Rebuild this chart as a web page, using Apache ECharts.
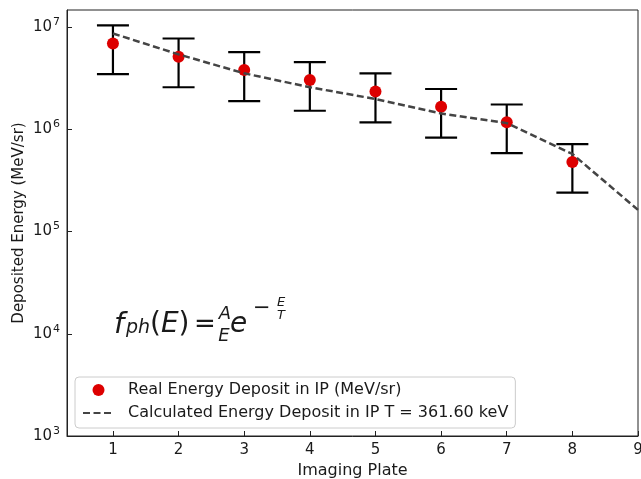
<!DOCTYPE html>
<html>
<head>
<meta charset="utf-8">
<script src="https://cdn.jsdelivr.net/npm/echarts@6/dist/echarts.min.js"></script>
<style>
html,body{margin:0;padding:0;background:#fff;}
#main{width:641px;height:479px;}
</style>
</head>
<body>
<div id="main"></div>
<script>
// ---- data ----
const plates = [1, 2, 3, 4, 5, 6, 7, 8];
const realDeposit = [6.93e6, 5.13e6, 3.80e6, 3.03e6, 2.35e6, 1.66e6, 1.17e6, 4.79e5];
const errLow = [3.47e6, 2.58e6, 1.89e6, 1.52e6, 1.17e6, 8.28e5, 5.86e5, 2.40e5];
const errHigh = [1.04e7, 7.74e6, 5.70e6, 4.55e6, 3.53e6, 2.48e6, 1.75e6, 7.18e5];
const calcPlates = [1, 2, 3, 4, 5, 6, 7, 8, 9];
const calcDeposit = [8.67e6, 5.41e6, 3.53e6, 2.58e6, 1.98e6, 1.43e6, 1.15e6, 5.74e5, 1.63e5];
const realName = 'Real Energy Deposit in IP (MeV/sr)';
const calcName = 'Calculated Energy Deposit in IP T = 361.60 keV';

const FONT = 'DejaVu Sans';
const TXT = '#1a1a1a';

const chart = echarts.init(document.getElementById('main'), null, {renderer: 'canvas'});

const errData = plates.map((p, i) => [p, errLow[i], errHigh[i]]);
const realData = plates.map((p, i) => [p, realDeposit[i]]);
const calcData = calcPlates.map((p, i) => [p, calcDeposit[i]]);

function mt(text, x, y, size, opts) {
  return {
    type: 'text', x: x, y: y, z: 100,
    style: Object.assign({
      text: text, fontFamily: FONT, fontSize: size, fontStyle: 'italic',
      fill: TXT, align: 'left', verticalAlign: 'middle'
    }, opts || {})
  };
}

const option = {
  animation: false,
  backgroundColor: '#fff',
  grid: {left: 67, right: 3, top: 10, bottom: 43, containLabel: false, outerBoundsMode: 'none',
    show: true, borderColor: '#222', borderWidth: 1, backgroundColor: 'transparent'},
  xAxis: {
    type: 'value', min: 0.3, max: 9, minInterval: 1, maxInterval: 1,
    name: 'Imaging Plate', nameLocation: 'middle', nameGap: 25,
    nameTextStyle: {fontFamily: FONT, fontSize: 16, color: TXT},
    axisLine: {show: true, onZero: false, lineStyle: {color: '#222', width: 1}},
    axisTick: {show: true, inside: true, length: 5, lineStyle: {color: '#222', width: 1}},
    axisLabel: {fontFamily: FONT, fontSize: 15, color: TXT, margin: 7, showMinLabel: false,
      formatter: v => (Math.abs(v - Math.round(v)) < 1e-6 ? String(Math.round(v)) : '')},
    splitLine: {show: false}
  },
  yAxis: {
    type: 'log', logBase: 10, min: 1000, max: 1.47e7,
    name: 'Deposited Energy (MeV/sr)', nameLocation: 'middle', nameGap: 40, nameRotate: 90,
    nameMoveOverlap: false,
    nameTextStyle: {fontFamily: FONT, fontSize: 15, color: TXT},
    axisLine: {show: true, lineStyle: {color: '#222', width: 1}},
    axisTick: {show: true, inside: true, length: 5, lineStyle: {color: '#222', width: 1}},
    axisLabel: {
      margin: 7, showMaxLabel: false,
      formatter: function (v) {
        const e = Math.log10(v);
        if (Math.abs(e - Math.round(e)) > 1e-6) return '';
        return '{b|10}{s|' + Math.round(e) + '}';
      },
      rich: {
        b: {fontFamily: FONT, fontSize: 15, color: TXT, lineHeight: 15},
        s: {fontFamily: FONT, fontSize: 11, color: TXT, lineHeight: 11, padding: [0, 0, 10, 1]}
      }
    },
    splitLine: {show: false}
  },
  legend: {
    data: [{name: realName}, {name: calcName, itemStyle: {opacity: 0}}],
    orient: 'vertical', left: 75, top: 377,
    padding: [4, 7, 6, 7], itemGap: 5, itemWidth: 31, itemHeight: 12,
    backgroundColor: 'rgba(255,255,255,0.85)', borderColor: '#cccccc', borderWidth: 1, borderRadius: 4,
    textStyle: {fontFamily: FONT, fontSize: 16, color: TXT, lineHeight: 18, padding: [0, 0, 0, 9]}
  },
  series: [
    {
      type: 'custom', name: 'errorbars', data: errData, z: 2,
      encode: {x: 0, y: [1, 2]},
      renderItem: function (params, api) {
        const x = api.value(0);
        const lo = api.coord([x, api.value(1)]);
        const hi = api.coord([x, api.value(2)]);
        const hw = 16;
        const st = {stroke: '#000', lineWidth: 2.2};
        return {type: 'group', children: [
          {type: 'line', shape: {x1: lo[0], y1: lo[1], x2: hi[0], y2: hi[1]}, style: st},
          {type: 'line', shape: {x1: lo[0] - hw, y1: lo[1], x2: lo[0] + hw, y2: lo[1]}, style: st},
          {type: 'line', shape: {x1: hi[0] - hw, y1: hi[1], x2: hi[0] + hw, y2: hi[1]}, style: st}
        ]};
      }
    },
    {
      type: 'scatter', name: realName, data: realData, z: 3,
      symbol: 'circle', symbolSize: 12,
      itemStyle: {color: '#dd0000', opacity: 1}
    },
    {
      type: 'line', name: calcName, data: calcData, z: 4,
      symbol: 'none', showSymbol: false,
      lineStyle: {color: '#444444', width: 2.5, type: [7, 3.5]},
      itemStyle: {color: '#444444'}
    }
  ],
  graphic: [
    mt('f', 114, 325, 29),
    mt('ph', 126, 328.5, 19),
    {type: 'text', x: 150, y: 325, z: 100, style: {
      text: '{u|(}{i|E}{u|)}', verticalAlign: 'middle', align: 'left',
      rich: {
        u: {fontFamily: FONT, fontSize: 28, fill: TXT, color: TXT},
        i: {fontFamily: FONT, fontSize: 28, fontStyle: 'italic', fill: TXT, color: TXT}
      }
    }},
    mt('=', 205, 325, 26, {fontStyle: 'normal', align: 'center'}),
    mt('A', 225, 314.7, 18, {align: 'center'}),
    mt('E', 224, 336.7, 18, {align: 'center'}),
    mt('e', 230, 325, 28),
    mt('\u2212', 253, 308.4, 21, {fontStyle: 'normal'}),
    mt('E', 281, 303, 13, {align: 'center'}),
    mt('T', 281, 316, 13, {align: 'center'})
  ]
};
chart.setOption(option);
</script>
</body>
</html>
